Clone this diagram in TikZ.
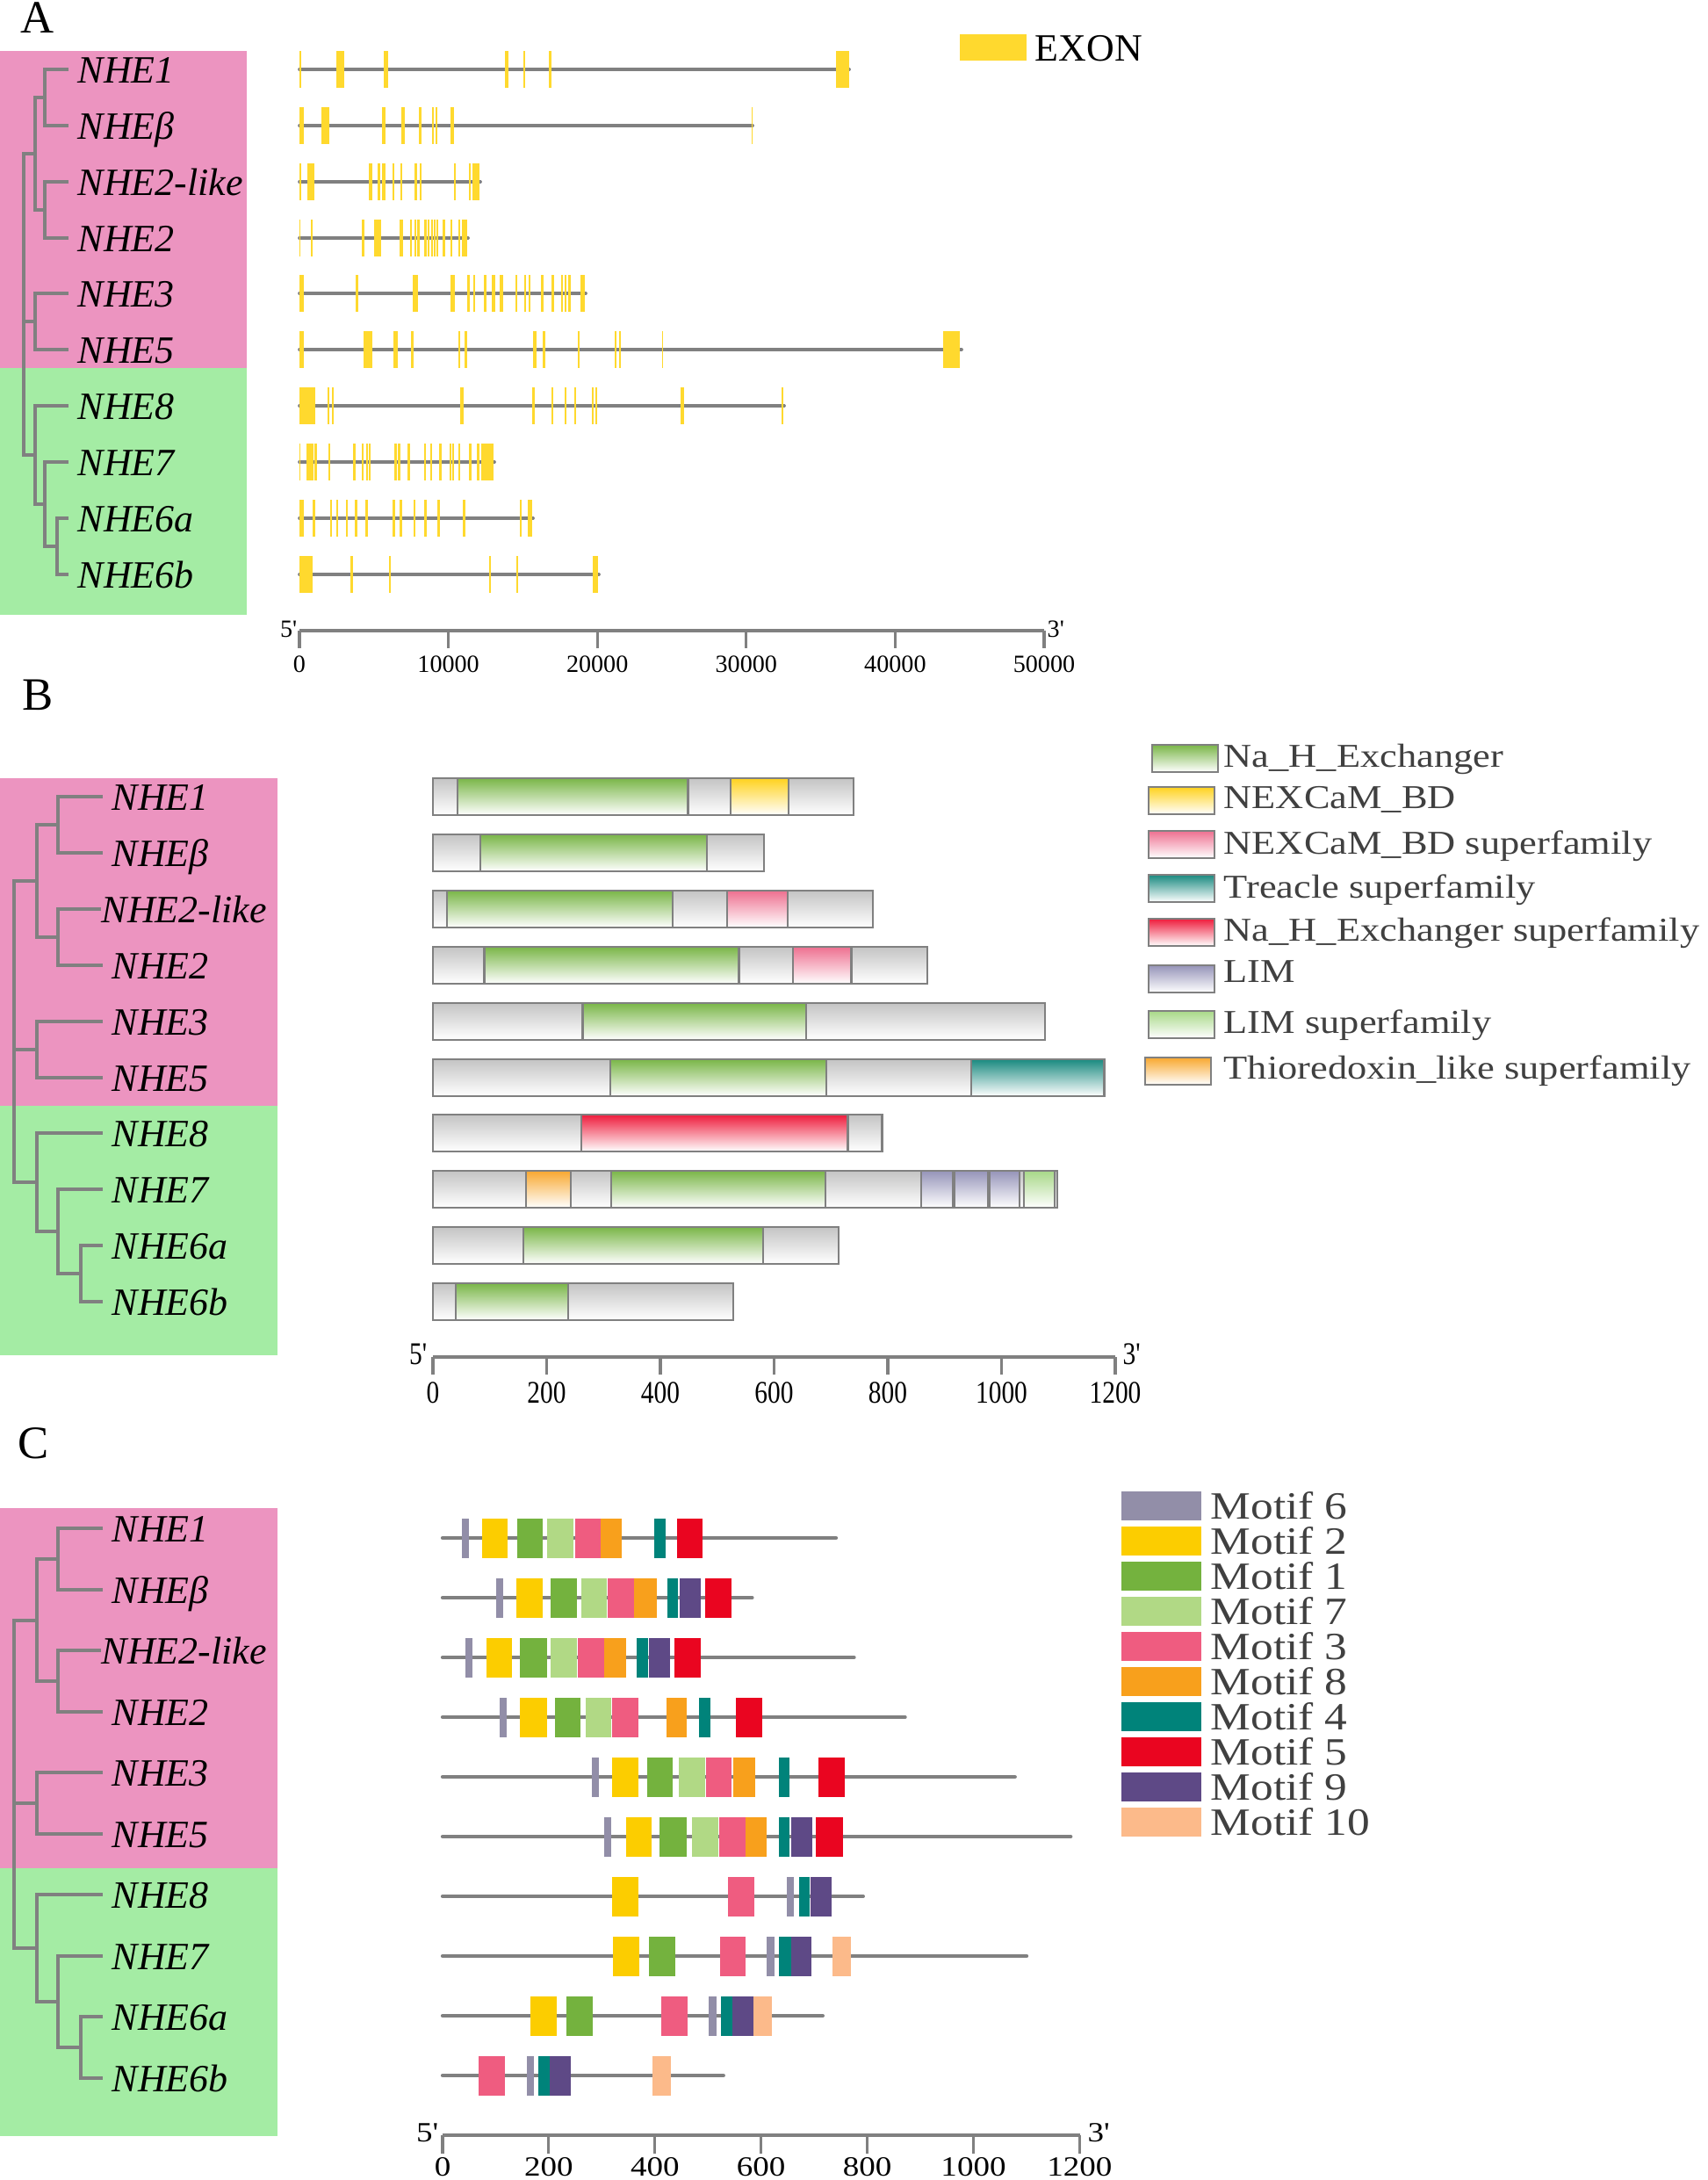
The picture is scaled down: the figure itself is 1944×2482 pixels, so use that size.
\documentclass[tikz,border=0pt]{standalone}
\usepackage{fontspec}
\setmainfont{Liberation Serif}
\newfontfamily\legendfont[FakeStretch=1.17]{Liberation Serif}
\newfontfamily\condfont[FakeStretch=0.82]{Liberation Serif}
\usetikzlibrary{positioning, calc}

\definecolor{cladepink}{RGB}{236,148,192}
\definecolor{cladegreen}{RGB}{164,236,164}
\definecolor{treegray}{RGB}{128,128,128}
\definecolor{exonyellow}{RGB}{255,217,46}
\definecolor{legendtext}{RGB}{64,64,64}
% domain colours (panel B)
\definecolor{boxgray}{RGB}{196,196,196}
\definecolor{dNHE}{RGB}{122,182,72}
\definecolor{dNEX}{RGB}{255,210,30}
\definecolor{dNEXsf}{RGB}{238,112,144}
\definecolor{dTreacle}{RGB}{26,138,128}
\definecolor{dNHEsf}{RGB}{238,28,60}
\definecolor{dLIM}{RGB}{150,148,185}
\definecolor{dLIMsf}{RGB}{168,216,136}
\definecolor{dThio}{RGB}{248,168,48}
% motif colours (panel C)
\definecolor{mot1}{RGB}{116,178,62}
\definecolor{mot2}{RGB}{252,205,0}
\definecolor{mot3}{RGB}{239,92,128}
\definecolor{mot4}{RGB}{0,131,122}
\definecolor{mot5}{RGB}{234,5,32}
\definecolor{mot6}{RGB}{146,142,168}
\definecolor{mot7}{RGB}{177,217,133}
\definecolor{mot8}{RGB}{248,160,28}
\definecolor{mot9}{RGB}{94,73,134}
\definecolor{mot10}{RGB}{252,186,138}

% gene structure: y, end, exons
\newcommand\gene[3]{%
  \draw[geneline] (341,#1) -- (#2,#1);
  \foreach \a/\b in {#3} \fill[exonyellow] (\a,#1-21) rectangle (\b,#1+21);
}
% protein domains: y, end, domains
\newcommand\prot[3]{%
  \shade[domainbox, top color=boxgray] (493,#1-21) rectangle (#2,#1+21);
  \foreach \a/\b/\c in {#3} \shade[domainbox, top color=\c] (\a,#1-21) rectangle (\b,#1+21);
}
% motifs: y, length (aa), motifs
\newcommand\motifs[3]{%
  \draw[motifline] (504,#1) -- ({504+#2*0.6046},#1);
  \foreach \a/\b/\c in {#3} \fill[\c] ({504+\a*0.6046},#1-22.5) rectangle ({504+\b*0.6046},#1+22.5);
}

\begin{document}
\begin{tikzpicture}[x=0.01cm, y=-0.01cm,
    treeline/.style={draw=treegray, line width=0.95pt},
    geneline/.style={draw=treegray, line width=1.05pt, line cap=round},
    motifline/.style={draw=treegray, line width=1.2pt, line cap=round},
    axisline/.style={draw=treegray, line width=0.9pt},
    domainbox/.style={bottom color=white, draw=treegray, line width=0.6pt},
    genename/.style={anchor=west, inner xsep=0.1cm, inner ysep=0pt, text height=8.8pt, text depth=0pt, font=\fontsize{12.5}{14}\selectfont\itshape},
    panel/.style={inner sep=0pt, font=\fontsize{15}{16}\selectfont},
    axnumA/.style={anchor=base, inner sep=0pt, font=\fontsize{8}{9}\selectfont},
    axnumB/.style={anchor=base, inner sep=0pt, font=\condfont\fontsize{10.2}{11}\selectfont},
    axnumC/.style={anchor=base, inner sep=0pt, font=\legendfont\fontsize{9}{10}\selectfont},
    domtext/.style={anchor=base west, inner sep=0pt, text=legendtext, font=\legendfont\fontsize{10.8}{12}\selectfont},
    motiftext/.style={anchor=base west, inner sep=0pt, text=legendtext, font=\legendfont\fontsize{12.5}{14}\selectfont}]

\path[fill=white] (0,0) rectangle (1944,2482);

%% ---------------- A: gene structure
\node[panel] (panelA) at (43,20) {A};
\fill[cladepink] (0,58) rectangle (281,419);
\fill[cladegreen] (0,419) rectangle (281,700);

\node[genename] (A-1) at (78,79) {NHE1};
\node[genename] (A-2) at (78,143) {NHEβ};
\node[genename] (A-3) at (78,207) {NHE2-like};
\node[genename] (A-4) at (78,271) {NHE2};
\node[genename] (A-5) at (78,334) {NHE3};
\node[genename] (A-6) at (78,398) {NHE5};
\node[genename] (A-7) at (78,462) {NHE8};
\node[genename] (A-8) at (78,526) {NHE7};
\node[genename] (A-9) at (78,590) {NHE6a};
\node[genename] (A-10) at (78,654) {NHE6b};

\coordinate (A-n01) at (51,111);
\coordinate (A-n23) at (51,239);
\coordinate (A-n0123) at (40,175);
\coordinate (A-n45) at (40,366);
\coordinate (A-n89) at (65,622);
\coordinate (A-n789) at (51,574);
\coordinate (A-n6789) at (40,518);
\coordinate (A-root) at (27,346);
\draw[treeline] (A-1.west) -| (A-n01) |- (A-2.west);
\draw[treeline] (A-3.west) -| (A-n23) |- (A-4.west);
\draw[treeline] (A-n01) -| (A-n0123) |- (A-n23);
\draw[treeline] (A-5.west) -| (A-n45) |- (A-6.west);
\draw[treeline] (A-9.west) -| (A-n89) |- (A-10.west);
\draw[treeline] (A-8.west) -| (A-n789) |- (A-n89);
\draw[treeline] (A-7.west) -| (A-n6789) |- (A-n789);
\draw[treeline] (A-n0123) -| (A-root) |- (A-n6789);
\draw[treeline] (A-n45) -- (A-n45 -| A-root);

\gene{79}{967}{341/343, 383/392, 437/442, 575/579, 596/598, 625/628, 952/967}
\gene{143}{857}{341/346, 366/375, 435/439, 457/461, 477/480, 492/494, 496/498, 513/517, 856/857}
\gene{207}{547}{341/343, 350/358, 420/424, 430/433, 435/439, 447/449, 456/458, 472/475, 478/480, 517/519, 534/536, 538/546}
\gene{271}{533}{341/342, 354/356, 412/415, 426/434, 455/459, 467/469, 472/474, 475/478, 483/486, 487/489, 491/493, 494/496, 497/499, 504/507, 513/515, 522/524, 526/532}
\gene{334}{667}{341/346, 405/408, 470/476, 513/518, 532/535, 539/541, 551/554, 560/564, 569/573, 587/589, 597/599, 602/604, 616/619, 628/631, 639/641, 643/645, 647/650, 661/666}
\gene{398}{1095}{341/346, 414/424, 448/453, 468/471, 522/524, 529/532, 607/611, 618/621, 658/660, 700/702, 705/707, 754/755, 1074/1093}
\gene{462}{893}{341/359, 373/375, 378/380, 524/528, 606/609, 628/630, 643/645, 654/656, 674/676, 678/680, 775/779, 890/892}
\gene{526}{563}{341/342, 349/357, 358/361, 374/376, 402/405, 412/414, 417/419, 420/422, 449/452, 453/456, 464/467, 483/485, 490/492, 500/503, 512/514, 515/517, 522/524, 534/537, 543/546, 548/562}
\gene{590}{607}{341/346, 356/359, 376/378, 383/385, 394/396, 404/407, 416/419, 447/450, 455/458, 471/473, 483/486, 498/501, 527/530, 592/594, 601/606}
\gene{654}{682}{341/356, 399/402, 443/445, 557/559, 588/590, 675/681}

\fill[exonyellow] (1093,39) rectangle (1169,69);
\node[anchor=base west, inner sep=0pt, font=\fontsize{12.5}{14}\selectfont] (exonkey) at (1178,70) {EXON};

\draw[axisline] (341,718) -- (1189,718);
\foreach \k/\v in {0/0, 1/10000, 2/20000, 3/30000, 4/40000, 5/50000} {
  \draw[axisline] ({341+\k*169.6},718) -- ++(0,20);
  \node[axnumA] (A-tick\k) at ({341+\k*169.6},765) {\v};
}
\node[axnumA, anchor=base east] (A-five) at (339,725) {5\textquotesingle};
\node[axnumA, anchor=base west] (A-three) at (1192,725) {3\textquotesingle};

%% ---------------- B: conserved domains
\node[panel] (panelB) at (43,791) {B};
\fill[cladepink] (0,886) rectangle (316,1259);
\fill[cladegreen] (0,1259) rectangle (316,1543);

\node[genename] (B-1) at (117,907) {NHE1};
\node[genename] (B-2) at (117,971) {NHEβ};
\node[genename, inner xsep=0pt] (B-3) at (115,1035) {NHE2-like};
\node[genename] (B-4) at (117,1099) {NHE2};
\node[genename] (B-5) at (117,1163) {NHE3};
\node[genename] (B-6) at (117,1227) {NHE5};
\node[genename] (B-7) at (117,1290) {NHE8};
\node[genename] (B-8) at (117,1354) {NHE7};
\node[genename] (B-9) at (117,1418) {NHE6a};
\node[genename] (B-10) at (117,1482) {NHE6b};

\coordinate (B-n01) at (66,939);
\coordinate (B-n23) at (66,1067);
\coordinate (B-n0123) at (42,1003);
\coordinate (B-n45) at (42,1195);
\coordinate (B-n89) at (92,1450);
\coordinate (B-n789) at (66,1402);
\coordinate (B-n6789) at (42,1346);
\coordinate (B-root) at (16,1175);
\draw[treeline] (B-1.west) -| (B-n01) |- (B-2.west);
\draw[treeline] (B-3.west) -| (B-n23) |- (B-4.west);
\draw[treeline] (B-n01) -| (B-n0123) |- (B-n23);
\draw[treeline] (B-5.west) -| (B-n45) |- (B-6.west);
\draw[treeline] (B-9.west) -| (B-n89) |- (B-10.west);
\draw[treeline] (B-8.west) -| (B-n789) |- (B-n89);
\draw[treeline] (B-7.west) -| (B-n6789) |- (B-n789);
\draw[treeline] (B-n0123) -| (B-root) |- (B-n6789);
\draw[treeline] (B-n45) -- (B-n45 -| B-root);

\prot{907}{972}{521/783.5/dNHE, 831.7/898/dNEX}
\prot{971}{870}{547/805/dNHE}
\prot{1035}{994}{509/766/dNHE, 828/897/dNEXsf}
\prot{1099}{1056}{551.5/841.5/dNHE, 903/969.5/dNEXsf}
\prot{1163}{1190}{663.5/918/dNHE}
\prot{1227}{1258}{695/941/dNHE, 1106/1257/dTreacle}
\prot{1290}{1004.5}{662/965.5/dNHEsf}
\prot{1354}{1204}{599/650/dThio, 695.6/939.6/dNHE, 1048.7/1084.8/dLIM, 1087/1125/dLIM, 1126.7/1161/dLIM, 1166/1201.4/dLIMsf}
\prot{1418}{955}{596/869/dNHE}
\prot{1482}{834.6}{519/647/dNHE}

\foreach \c/\t/\xl/\yb/\yt [count=\i] in {dNHE/Na\_H\_Exchanger/1312/879/873,
    dNEX/NEXCaM\_BD/1308/927/920,
    dNEXsf/NEXCaM\_BD superfamily/1308/977/972,
    dTreacle/Treacle superfamily/1308/1027/1022,
    dNHEsf/Na\_H\_Exchanger superfamily/1308/1077/1071,
    dLIM/LIM/1308/1130/1118,
    dLIMsf/LIM superfamily/1308/1182/1176,
    dThio/Thioredoxin\_like superfamily/1304/1235/1228} {
  \shade[domainbox, top color=\c] (\xl,\yb-31) rectangle (\xl+75,\yb);
  \node[domtext] (domkey\i) at (1393,\yt) {\t};
}

\draw[axisline] (493,1545) -- (1270,1545);
\foreach \k/\v in {0/0, 1/200, 2/400, 3/600, 4/800, 5/1000, 6/1200} {
  \draw[axisline] ({493+\k*129.5},1545) -- ++(0,20);
  \node[axnumB] (B-tick\k) at ({493+\k*129.5},1597) {\v};
}
\node[axnumB, anchor=base east] (B-five) at (488,1553) {5\textquotesingle};
\node[axnumB, anchor=base west] (B-three) at (1278,1553) {3\textquotesingle};

%% ---------------- C: conserved motifs
\node[panel] (panelC) at (38,1643) {C};
\fill[cladepink] (0,1717) rectangle (316,2127);
\fill[cladegreen] (0,2127) rectangle (316,2432);

\node[genename] (C-1) at (117,1740) {NHE1};
\node[genename] (C-2) at (117,1810) {NHEβ};
\node[genename, inner xsep=0pt] (C-3) at (115,1879) {NHE2-like};
\node[genename] (C-4) at (117,1949) {NHE2};
\node[genename] (C-5) at (117,2018) {NHE3};
\node[genename] (C-6) at (117,2088) {NHE5};
\node[genename] (C-7) at (117,2157) {NHE8};
\node[genename] (C-8) at (117,2227) {NHE7};
\node[genename] (C-9) at (117,2296) {NHE6a};
\node[genename] (C-10) at (117,2366) {NHE6b};

\coordinate (C-n01) at (66,1775);
\coordinate (C-n23) at (66,1914);
\coordinate (C-n0123) at (42,1845);
\coordinate (C-n45) at (42,2053);
\coordinate (C-n89) at (92,2331);
\coordinate (C-n789) at (66,2279);
\coordinate (C-n6789) at (42,2218);
\coordinate (C-root) at (16,2030);
\draw[treeline] (C-1.west) -| (C-n01) |- (C-2.west);
\draw[treeline] (C-3.west) -| (C-n23) |- (C-4.west);
\draw[treeline] (C-n01) -| (C-n0123) |- (C-n23);
\draw[treeline] (C-5.west) -| (C-n45) |- (C-6.west);
\draw[treeline] (C-9.west) -| (C-n89) |- (C-10.west);
\draw[treeline] (C-8.west) -| (C-n789) |- (C-n89);
\draw[treeline] (C-7.west) -| (C-n6789) |- (C-n789);
\draw[treeline] (C-n0123) -| (C-root) |- (C-n6789);
\draw[treeline] (C-n45) -- (C-n45 -| C-root);

\motifs{1751}{741}{37/50/mot6, 74/123/mot2, 140/189/mot1, 197/247/mot7, 249/297/mot3, 297/338/mot8, 399/420/mot4, 441/490/mot5}
\motifs{1819}{583}{101/114/mot6, 139/188/mot2, 203/253/mot1, 261/310/mot7, 311/361/mot3, 361/403/mot8, 423/444/mot4, 446/486/mot9, 495/544/mot5}
\motifs{1887}{775}{43/56/mot6, 82/131/mot2, 146/196/mot1, 204/253/mot7, 255/305/mot3, 305/346/mot8, 366/387/mot4, 389/428/mot9, 437/486/mot5}
\motifs{1955}{871}{107/121/mot6, 146/196/mot2, 211/260/mot1, 269/318/mot7, 320/369/mot3, 421/460/mot8, 483/504/mot4, 553/602/mot5}
\motifs{2023}{1078}{281/294/mot6, 320/369/mot2, 385/434/mot1, 445/495/mot7, 497/544/mot3, 547/588/mot8, 633/653/mot4, 708/757/mot5}
\motifs{2091}{1183}{305/318/mot6, 345/393/mot2, 409/460/mot1, 470/519/mot7, 521/570/mot3, 570/611/mot8, 633/654/mot4, 656/696/mot9, 703/754/mot5}
\motifs{2159}{792}{320/369/mot2, 537/587/mot3, 648/662/mot6, 671/691/mot4, 693/733/mot9}
\motifs{2227}{1100}{321/370/mot2, 389/439/mot1, 522/571/mot3, 611/626/mot6, 634/656/mot4, 656/695/mot9, 735/769/mot10}
\motifs{2295}{716}{165/215/mot2, 234/282/mot1, 412/461/mot3, 501/516/mot6, 524/545/mot4, 545/585/mot9, 586/621/mot10}
\motifs{2363}{529}{68/118/mot3, 158/172/mot6, 180/201/mot4, 201/241/mot9, 396/430/mot10}

\foreach \c/\t [count=\i from 0] in {mot6/6, mot2/2, mot1/1, mot7/7, mot3/3, mot8/8, mot4/4, mot5/5, mot9/9, mot10/10} {
  \fill[\c] (1277,{1698+40*\i}) rectangle (1368,{1731+40*\i});
  \node[motiftext] (motif\t) at (1378,{1729+40*\i}) {Motif \t};
}

\draw[axisline] (504,2431) -- (1229.5,2431);
\foreach \k/\v in {0/0, 1/200, 2/400, 3/600, 4/800, 5/1000, 6/1200} {
  \draw[axisline] ({504+\k*120.9},2431) -- ++(0,21);
  \node[axnumC] (C-tick\k) at ({504+\k*120.9},2477) {\v};
}
\node[axnumC, anchor=base east] (C-five) at (499,2438) {5\textquotesingle};
\node[axnumC, anchor=base west] (C-three) at (1238,2438) {3\textquotesingle};

\end{tikzpicture}
\end{document}
